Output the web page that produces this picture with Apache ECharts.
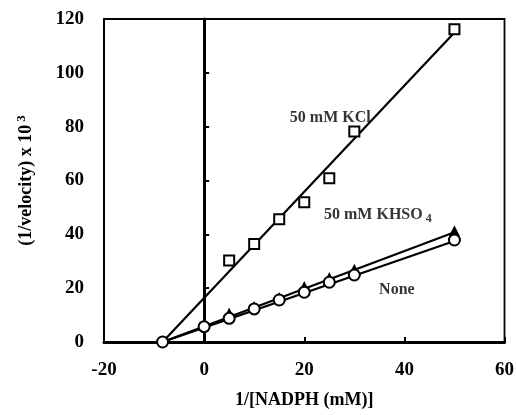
<!DOCTYPE html>
<html>
<head>
<meta charset="utf-8">
<script src="https://cdn.jsdelivr.net/npm/echarts@6/dist/echarts.min.js"></script>
<style>
  html, body { margin: 0; padding: 0; background: #fff; }
  #chart { width: 517px; height: 415px; }
</style>
</head>
<body>
<div id="chart"></div>
<script>
// data (Lineweaver-Burk plot)
const kclX = [5, 10, 15, 20, 25, 30, 50];
const kclY = [30.3, 36.4, 45.6, 51.9, 60.8, 78.2, 116.2];

const khso4X = [5, 10, 15, 20, 25, 30, 50];
const khso4Y = [10.8, 13.2, 16.5, 20.6, 24.0, 27.0, 41.3];

const noneX = [-8.3, 0, 5, 10, 15, 20, 25, 30, 50];
const noneY = [0, 5.7, 8.8, 12.3, 15.6, 18.5, 22.2, 24.9, 37.9];

// fitted lines: [x, y] ends
const kclFit = [[-8.3, 0], [50, 115]];
const khso4Fit = [[-8.3, 0], [50, 40.8]];
const noneFit = [[-8.3, 0], [50, 37.5]];

// curve labels: [x, y, text]
const curveLabels = [
  [25.2, 83.3, '50 mM KCl'],
  [34.7, 47.2, '50 mM KHSO{sub|4}'],
  [38.5, 19.3, 'None']
];

const xTicks = [-20, 0, 20, 40, 60];
const yTicks = [0, 20, 40, 60, 80, 100, 120];

const font = '"Liberation Serif", "Times New Roman", serif';
const zip = (xs, ys) => xs.map((x, i) => [x, ys[i]]);

const chart = echarts.init(document.getElementById('chart'));

const fitLine = (data) => ({
  type: 'line',
  data: data,
  showSymbol: false,
  symbol: 'none',
  lineStyle: { color: '#000', width: 2.2 },
  z: 2,
  silent: true
});

const option = {
  backgroundColor: '#fff',
  animation: false,
  grid: {
    left: 104, right: 10, top: 19, bottom: 73,
    show: true, borderColor: '#000', borderWidth: 1.8
  },
  xAxis: {
    type: 'value',
    min: xTicks[0], max: xTicks[xTicks.length - 1], interval: 20,
    axisLine: { onZero: false, lineStyle: { color: '#000', width: 3 } },
    axisTick: { inside: true, length: 5, lineStyle: { color: '#000', width: 2 } },
    axisLabel: { margin: 19, color: '#000', fontFamily: font, fontWeight: 'bold', fontSize: 19 },
    splitLine: { show: false },
    name: '1/[NADPH (mM)]',
    nameLocation: 'middle',
    nameGap: 49,
    nameTextStyle: { color: '#000', fontFamily: font, fontWeight: 'bold', fontSize: 18 }
  },
  yAxis: [
    {
      type: 'value',
      position: 'left',
      min: yTicks[0], max: yTicks[yTicks.length - 1], interval: 20,
      axisLine: { show: true, onZero: false, lineStyle: { color: '#000', width: 1.8 } },
      axisTick: { show: false },
      axisLabel: { margin: 20, color: '#000', fontFamily: font, fontWeight: 'bold', fontSize: 19 },
      splitLine: { show: false },
      name: '(1/velocity) x 10{sup|3}',
      nameLocation: 'middle',
      nameRotate: 90,
      nameGap: 66,
      nameTextStyle: {
        color: '#000', fontFamily: font, fontWeight: 'bold', fontSize: 18,
        rich: {
          sup: { fontFamily: font, fontWeight: 'bold', fontSize: 13, verticalAlign: 'top', padding: [0, 0, 10, 3] }
        }
      }
    },
    {
      // vertical line at x = 0 with inward ticks
      type: 'value',
      position: 'left',
      min: yTicks[0], max: yTicks[yTicks.length - 1], interval: 20,
      axisLine: { show: true, onZero: true, lineStyle: { color: '#000', width: 3 } },
      axisTick: { show: true, inside: true, length: 5, lineStyle: { color: '#000', width: 2 } },
      axisLabel: { show: false },
      splitLine: { show: false }
    }
  ],
  series: [
    fitLine(kclFit),
    fitLine(khso4Fit),
    fitLine(noneFit),
    {
      type: 'scatter',
      data: zip(kclX, kclY),
      symbol: 'rect',
      symbolSize: 10,
      clip: false,
      itemStyle: { color: '#fff', borderColor: '#000', borderWidth: 2, opacity: 1 },
      z: 4
    },
    {
      type: 'scatter',
      data: zip(khso4X, khso4Y),
      symbol: 'triangle',
      symbolSize: 11,
      clip: false,
      itemStyle: { color: '#000', opacity: 1 },
      z: 4
    },
    {
      type: 'scatter',
      data: zip(noneX, noneY),
      symbol: 'circle',
      symbolSize: 11,
      clip: false,
      itemStyle: { color: '#fff', borderColor: '#000', borderWidth: 2, opacity: 1 },
      z: 5
    },
    {
      type: 'scatter',
      data: curveLabels.map(d => ({ value: [d[0], d[1]], text: d[2] })),
      symbolSize: 0,
      silent: true,
      label: {
        show: true,
        position: 'inside',
        formatter: p => p.data.text,
        color: '#000',
        fontFamily: font,
        fontWeight: 'bold',
        fontSize: 16,
        rich: {
          sub: { fontFamily: font, fontWeight: 'bold', fontSize: 12, padding: [8, 0, 0, 3] }
        }
      },
      z: 6
    }
  ]
};

chart.setOption(option);
</script>
</body>
</html>
